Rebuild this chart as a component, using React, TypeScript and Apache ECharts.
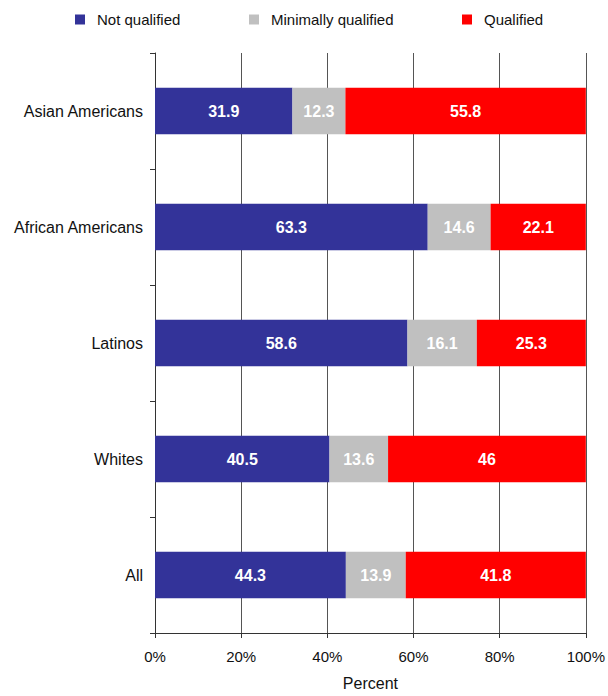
import React, { useEffect, useRef } from "react";
import * as echarts from "echarts";

const categories = ["Asian Americans", "African Americans", "Latinos", "Whites", "All"];
const notQualified = [31.9, 63.3, 58.6, 40.5, 44.3];
const minimallyQualified = [12.3, 14.6, 16.1, 13.6, 13.9];
const qualified = [55.8, 22.1, 25.3, 46, 41.8];
const seriesNames = ["Not qualified", "Minimally qualified", "Qualified"];
const colors = ["#333399", "#C0C0C0", "#FF0000"];

export default function App() {
  const ref = useRef<HTMLDivElement>(null);
  useEffect(() => {
    if (!ref.current) return;
    const chart = echarts.init(ref.current, null, { renderer: "svg" });
    const font = "'Liberation Sans', Arial, sans-serif";
    const dataSets = [notQualified, minimallyQualified, qualified];
    const legendLefts = [75, 249, 462];
    chart.setOption({
      animation: false,
      textStyle: { fontFamily: font },
      legend: seriesNames.map((n, i) => ({
        data: [n],
        left: legendLefts[i],
        top: 12,
        padding: 0,
        itemWidth: 10,
        itemHeight: 10,
        icon: "rect",
        selectedMode: false,
        textStyle: { fontSize: 15, color: "#111", fontFamily: font, padding: [0, 0, 0, 7] },
      })),
      grid: { left: 155, right: 21, top: 53, bottom: 61, containLabel: false },
      xAxis: {
        type: "value",
        min: 0,
        max: 100,
        interval: 20,
        name: "Percent",
        nameLocation: "middle",
        nameGap: 42,
        nameTextStyle: { fontSize: 16, color: "#111", fontFamily: font },
        axisLabel: { formatter: "{value}%", fontSize: 15, color: "#111", margin: 16, fontFamily: font },
        axisLine: { show: true, lineStyle: { color: "#333" } },
        axisTick: { show: true, length: 5, lineStyle: { color: "#333" } },
        splitLine: { show: true, lineStyle: { color: "#555" } },
      },
      yAxis: {
        type: "category",
        data: categories,
        inverse: true,
        axisLabel: { fontSize: 16, color: "#111", margin: 12, fontFamily: font },
        axisLine: { show: true, lineStyle: { color: "#333" } },
        axisTick: { show: true, length: 5, lineStyle: { color: "#333" } },
      },
      series: seriesNames.map((n, i) => ({
        name: n,
        type: "bar",
        stack: "total",
        barWidth: "40%",
        data: dataSets[i],
        itemStyle: { color: colors[i] },
        label: {
          show: true,
          position: "inside",
          color: "#fff",
          fontWeight: "bold",
          fontSize: 16,
          fontFamily: font,
        },
      })),
    });
    return () => chart.dispose();
  }, []);
  return (
    <div
      ref={ref}
      style={{ position: "absolute", left: 0, top: 0, width: 608, height: 696 }}
    />
  );
}
